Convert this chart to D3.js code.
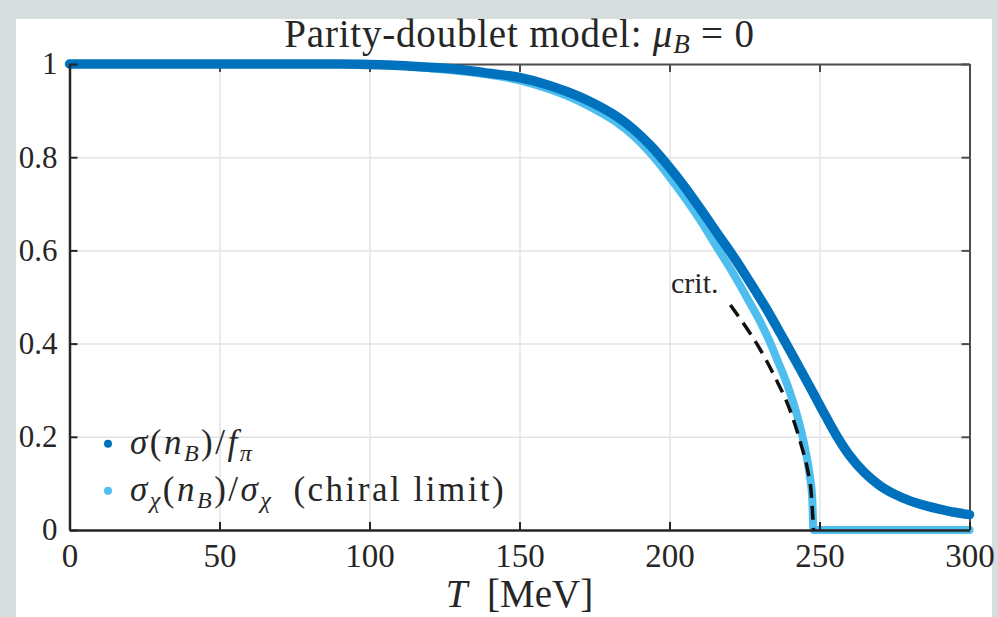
<!DOCTYPE html>
<html>
<head>
<meta charset="utf-8">
<script src="https://cdn.jsdelivr.net/npm/d3@7"></script>
<style>
  html, body { margin: 0; padding: 0; background: #d7dddd; }
  svg { display: block; }
  text { font-family: "Liberation Serif", "DejaVu Serif", serif; fill: #262626; }
</style>
</head>
<body>
<div id="chart"></div>
<script>
// values
var tempSigma = [0, 20, 40, 60, 80, 90, 100, 110, 120, 130, 140, 150, 160, 170, 177, 183, 188, 194, 199, 205, 210, 216, 221, 227, 232, 238, 243, 248, 252, 256, 260, 265, 270, 275, 280, 285, 290, 295, 300];
var sigma = [1, 1, 1, 1, 1, 1, 0.999, 0.997, 0.993, 0.988, 0.98, 0.971, 0.954, 0.93, 0.908, 0.885, 0.86, 0.823, 0.786, 0.737, 0.692, 0.636, 0.59, 0.53, 0.478, 0.41, 0.352, 0.293, 0.245, 0.199, 0.16, 0.123, 0.096, 0.077, 0.063, 0.053, 0.045, 0.038, 0.033];

var tempChiral = [0, 20, 40, 60, 80, 90, 100, 110, 120, 130, 140, 150, 160, 170, 177, 183, 188, 194, 199, 205, 210, 216, 221, 227, 230, 233, 236, 239, 242, 244, 245.5, 246.8, 247.6, 248, 260, 280, 300];
var sigmaChiral = [1, 1, 1, 1, 1, 1, 0.999, 0.996, 0.991, 0.985, 0.977, 0.965, 0.946, 0.92, 0.896, 0.872, 0.846, 0.806, 0.766, 0.714, 0.667, 0.605, 0.553, 0.485, 0.45, 0.41, 0.364, 0.316, 0.258, 0.21, 0.165, 0.115, 0.065, 0, 0, 0, 0];

var tempCrit = [220.3, 225, 230, 235, 240, 244, 246, 247.3, 248];
var crit = [0.483, 0.44, 0.39, 0.33, 0.26, 0.18, 0.13, 0.075, 0];

var xTicks = [0, 50, 100, 150, 200, 250, 300];
var yTicks = [0, 0.2, 0.4, 0.6, 0.8, 1];
var yTickLabels = ["0", "0.2", "0.4", "0.6", "0.8", "1"];

var width = 998, height = 617;
var margin = {left: 69.5, right: 28.5, top: 64, bottom: 87};
var darkBlue = "#0072bd", lightBlue = "#4dbeee";
var serif = "Liberation Serif";

var svg = d3.select("#chart").append("svg")
	.attr("width", width)
	.attr("height", height);

// white panel on the grey page
svg.append("rect")
	.attr("x", 16).attr("y", 19)
	.attr("width", 976).attr("height", height - 19)
	.attr("fill", "#ffffff");

var x = d3.scaleLinear().domain([0, 300]).range([margin.left, width - margin.right]);
var y = d3.scaleLinear().domain([0, 1]).range([height - margin.bottom, margin.top]);

var g = svg.append("g");

// grid
g.append("g").attr("class", "grid")
	.attr("transform", "translate(0," + y(0) + ")")
	.call(d3.axisBottom(x).tickValues(xTicks).tickSize(-(y(0) - y(1))).tickFormat(""))
	.call(function(s) { s.select(".domain").remove(); s.selectAll("line").attr("stroke", "#e3e3e3").attr("stroke-width", 1.5); });
g.append("g").attr("class", "grid")
	.attr("transform", "translate(" + x(0) + ",0)")
	.call(d3.axisLeft(y).tickValues(yTicks).tickSize(-(x(300) - x(0))).tickFormat(""))
	.call(function(s) { s.select(".domain").remove(); s.selectAll("line").attr("stroke", "#e3e3e3").attr("stroke-width", 1.5); });

// box (top + right) with inward ticks
g.append("g")
	.attr("transform", "translate(0," + y(1) + ")")
	.call(d3.axisTop(x).tickValues(xTicks).tickSize(-8).tickSizeOuter(0).tickFormat(""))
	.call(function(s) { s.select(".domain").attr("stroke", "#4d4d4d").attr("stroke-width", 2); s.selectAll("line").attr("stroke", "#4d4d4d").attr("stroke-width", 2); });
g.append("g")
	.attr("transform", "translate(" + x(300) + ",0)")
	.call(d3.axisRight(y).tickValues(yTicks).tickSize(-8).tickSizeOuter(0).tickFormat(""))
	.call(function(s) { s.select(".domain").attr("stroke", "#4d4d4d").attr("stroke-width", 2); s.selectAll("line").attr("stroke", "#4d4d4d").attr("stroke-width", 2); });

// curves
var line = d3.line()
	.x(function(d) { return x(d[0]); })
	.y(function(d) { return y(d[1]); })
	.curve(d3.curveMonotoneX);

g.append("path")
	.datum(d3.zip(tempChiral, sigmaChiral))
	.attr("d", line)
	.attr("fill", "none")
	.attr("stroke", lightBlue)
	.attr("stroke-width", 8)
	.attr("stroke-linecap", "round")
	.attr("stroke-linejoin", "round");

g.append("path")
	.datum(d3.zip(tempSigma, sigma))
	.attr("d", line)
	.attr("fill", "none")
	.attr("stroke", darkBlue)
	.attr("stroke-width", 9.5)
	.attr("stroke-linecap", "round")
	.attr("stroke-linejoin", "round");

g.append("path")
	.datum(d3.zip(tempCrit, crit))
	.attr("d", line)
	.attr("fill", "none")
	.attr("stroke", "#111111")
	.attr("stroke-width", 3.5)
	.attr("stroke-dasharray", "14,8");

// left + bottom axes
var xAxis = g.append("g")
	.attr("transform", "translate(0," + y(0) + ")")
	.call(d3.axisBottom(x).tickValues(xTicks).tickSize(-8).tickSizeOuter(0).tickPadding(14));
xAxis.select(".domain").attr("stroke", "#262626").attr("stroke-width", 2.5);
xAxis.selectAll(".tick line").attr("stroke", "#262626").attr("stroke-width", 2);
xAxis.selectAll(".tick text").attr("font-size", 33).attr("font-family", serif).attr("fill", "#262626");

var yAxis = g.append("g")
	.attr("transform", "translate(" + x(0) + ",0)")
	.call(d3.axisLeft(y).tickValues(yTicks).tickSize(-8).tickSizeOuter(0).tickPadding(12)
		.tickFormat(function(d, i) { return yTickLabels[i]; }));
yAxis.select(".domain").attr("stroke", "#262626").attr("stroke-width", 2.5);
yAxis.selectAll(".tick line").attr("stroke", "#262626").attr("stroke-width", 2);
yAxis.selectAll(".tick text").attr("font-size", 31).attr("font-family", serif).attr("fill", "#262626");

// title
var title = svg.append("text")
	.attr("x", (x(0) + x(300)) / 2).attr("y", 47)
	.attr("text-anchor", "middle")
	.attr("font-family", serif)
	.attr("font-size", 39)
	.attr("letter-spacing", 0.8);
title.append("tspan").text("Parity-doublet model:  ");
title.append("tspan").attr("font-style", "italic").text("μ");
title.append("tspan").attr("font-style", "italic").attr("font-size", 27).attr("dy", 6).text("B");
title.append("tspan").attr("dy", -6).text(" = 0");

// x label
var xlab = svg.append("text")
	.attr("x", (x(0) + x(300)) / 2).attr("y", 607)
	.attr("text-anchor", "middle")
	.attr("font-family", serif)
	.attr("font-size", 39);
xlab.append("tspan").attr("font-style", "italic").text("T");
xlab.append("tspan").text("\u2002[MeV]");

// crit. label
svg.append("text")
	.attr("x", 671).attr("y", 293)
	.attr("font-family", serif)
	.attr("font-size", 30)
	.text("crit.");

// legend
var legendItems = [
	{color: darkBlue, parts: [["σ", "i", 0], ["(", "n", 0], ["n", "i", 0], ["B", "i", 1], [")/", "n", -1], ["f", "i", 0], ["π", "i", 1]]},
	{color: lightBlue, parts: [["σ", "i", 0], ["χ", "i", 1], ["(", "n", -1], ["n", "i", 0], ["B", "i", 1], [")/", "n", -1], ["σ", "i", 0], ["χ", "i", 1], ["\u2002(chiral limit)", "n", -1]]}
];
var legendY = [y(0.2) + 17, y(0.2) + 64];
legendItems.forEach(function(item, i) {
	svg.append("circle")
		.attr("cx", 108).attr("cy", legendY[i] - 10)
		.attr("r", 4)
		.attr("fill", item.color);
	var t = svg.append("text")
		.attr("x", 130).attr("y", legendY[i])
		.attr("font-family", serif)
		.attr("font-size", 35)
		.attr("letter-spacing", 2.5);
	item.parts.forEach(function(p) {
		var ts = t.append("tspan").text(p[0]);
		if (p[1] == "i") ts.attr("font-style", "italic");
		if (p[2] == 1) ts.attr("font-size", 24).attr("dy", 7);
		if (p[2] == -1) ts.attr("dy", -7);
	});
});
</script>
</body>
</html>
